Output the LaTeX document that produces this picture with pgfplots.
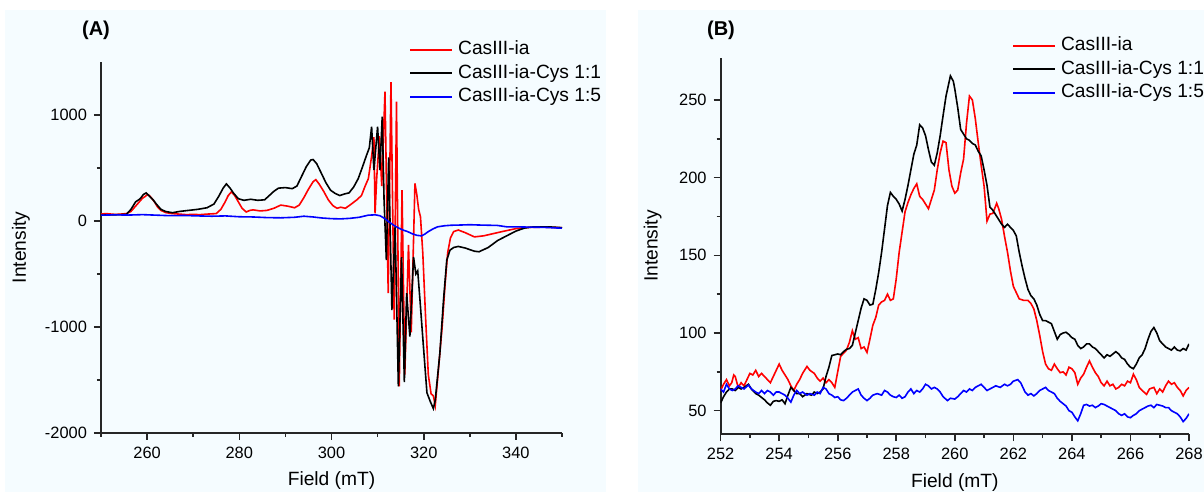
\documentclass[border=0pt]{standalone}
\usepackage{fontspec}
\setmainfont{Liberation Sans}
\usepackage{pgfplots}
\pgfplotsset{compat=1.18}
\definecolor{panelbg}{RGB}{245,252,255}
\definecolor{eprred}{RGB}{255,0,0}
\definecolor{eprblue}{RGB}{0,0,255}

\pgfplotsset{
  epr/.style={
    scale only axis,
    axis lines*=left,
    axis line style={line width=0.9pt, black!85, -},
    tick style={line width=0.8pt, black!85},
    tick align=outside,
    major tick length=3.5pt,
    minor tick length=2pt,
    tick label style={font=\fontsize{8.2}{9}\selectfont},
    /pgf/number format/assume math mode=true,
    /pgf/number format/1000 sep={},
    label style={font=\fontsize{9.6}{11}\selectfont},
    legend style={draw=none, fill=none, font=\fontsize{9.6}{11}\selectfont,
      anchor=north west, row sep=2.75pt, column sep=2.5pt,
      nodes={inner sep=0pt, text height=7pt, text depth=2pt},
      cells={anchor=west}},
    legend image code/.code={\draw[#1, line width=0.9pt] (0pt,0pt) -- (21pt,0pt);},
    every axis plot/.append style={line width=0.8pt, mark=none},
  },
}

\begin{document}
\begin{tikzpicture}
\useasboundingbox (0,0) rectangle (602pt,246pt);
\fill[panelbg] (2.5pt,0pt) rectangle (303pt,241pt);
\fill[panelbg] (319pt,0pt) rectangle (602pt,241pt);

% ---------- panel A ----------
\begin{axis}[epr,
  at={(50.5pt,29.5pt)}, anchor=south west,
  width=230.5pt, height=185.5pt,
  xmin=250, xmax=350, ymin=-2000, ymax=1500,
  xtick={260,280,300,320,340}, minor xtick={250,270,290,310,330,350},
  ytick={-2000,-1000,0,1000}, minor ytick={-1500,-500,500},
  xlabel={Field (mT)}, ylabel={Intensity},
  xlabel style={at={(axis description cs:0.5,-0.127)}, anchor=center},
  ylabel style={at={(axis description cs:-0.1735,0.5)}, anchor=center},
  legend style={at={(axis description cs:0.655,1.069)}},
]
\addplot[eprred] coordinates {
(250,65)(251,70)(252,66)(253,62)(254,64)(255,68)(255.5,70)(256.5,90)(257.5,140)(258.3,180)(259,215)
(259.6,232)(260.1,250)(260.4,244)(261,215)(261.6,180)(262.3,130)(263,100)(264,80)(265,72)
(266,68)(267,65)(268.5,60)(270,62)(271.5,60)(273,65)(275,70)(276,110)(276.8,170)(277.6,240)
(278.3,275)(279,240)(279.8,180)(280.6,120)(281.5,85)(282.3,100)(283,105)(284.5,95)(286,100)
(287.5,120)(289,150)(290.5,140)(292,125)(293,150)(294,220)(295,300)(296,370)(296.6,390)
(297.3,350)(298.3,280)(299.3,200)(300.3,145)(301.2,120)(302,130)(303,120)(304,150)(305.5,200)
(306.5,240)(307.3,330)(308,400)(308.7,610)(309.2,790)(309.45,72)(309.8,400)(310.4,800)
(310.9,330)(311.6,1220)(312.3,-680)(312.9,1310)(313.6,-930)(314.1,1125)(314.7,-1560)
(315.3,290)(315.9,-1450)(316.7,-226)(317.3,-1050)(318.1,355)(318.5,250)(318.9,110)
(319.3,40)(319.8,-300)(320.4,-900)(321,-1450)(321.6,-1630)(322.1,-1650)(322.5,-1740)
(323,-1500)(323.5,-1250)(324,-1000)(324.6,-620)(325.2,-300)(325.8,-160)(326.5,-100)
(327.5,-85)(329,-110)(331,-150)(333,-140)(335,-120)(337,-100)(340,-72)(343,-60)(346,-58)(350,-63)
};
\addlegendentry{CasIII-ia}
\addplot[black] coordinates {
(250,55)(252,58)(254,60)(255.5,62)(256.5,110)(257.5,180)(258.5,210)(259.2,250)(259.8,265)
(260.5,235)(261.3,200)(262,160)(263,110)(264,90)(265.5,78)(267,90)(269,100)(271,110)(273,125)
(274.5,160)(275.5,230)(276.5,310)(277.2,350)(278,310)(278.8,260)(279.8,210)(281,195)(282.5,205)
(284,195)(285.5,200)(286.5,240)(287.5,280)(288.5,310)(290,315)(291.5,305)(292.5,330)(293.5,420)
(294.5,510)(295.5,575)(296,580)(296.8,540)(297.8,450)(298.8,360)(299.8,290)(300.8,260)
(301.8,240)(302.8,255)(303.8,265)(304.8,320)(305.8,400)(306.8,520)(307.6,620)(308.2,690)
(308.7,890)(309.2,480)(310,890)(310.5,480)(311,985)(311.4,200)(311.9,-370)(312.4,600)
(313.1,-840)(313.8,-50)(314.5,-1560)(315.2,-340)(315.8,-1520)(316.3,-680)(317,-1090)
(317.8,-340)(318.3,-500)(318.7,-470)(319.2,-750)(319.9,-1160)(320.7,-1620)(321.4,-1700)
(322.1,-1770)(322.5,-1690)(323.5,-1250)(324.3,-745)(325,-370)(325.7,-275)(326.5,-250)
(327.5,-240)(329,-255)(331,-285)(332,-290)(334,-250)(336,-185)(338,-140)(340,-95)(342,-65)
(344,-55)(347,-55)(350,-63)
};
\addlegendentry{CasIII-ia-Cys 1:1}
\addplot[eprblue] coordinates {
(250,55)(253,58)(256,56)(259,60)(262,55)(265,50)(268,52)(271,48)(274,45)(277,48)(280,40)
(283,38)(286,32)(289,30)(292,35)(294,45)(296,38)(298,28)(300,22)(302,20)(304,25)(306,35)
(308,55)(309.5,58)(310.5,50)(311.5,25)(312.5,-10)(313.5,-40)(314.5,-65)(315.5,-85)(316.5,-100)
(317.5,-120)(318.5,-135)(319.5,-140)(320.2,-125)(321,-100)(322,-75)(323,-55)(324.5,-45)
(326,-40)(328,-38)(330,-35)(332,-38)(334,-40)(336,-42)(338,-55)(340,-55)(343,-58)(346,-60)(350,-68)
};
\addlegendentry{CasIII-ia-Cys 1:5}
\end{axis}

% ---------- panel B ----------
\begin{axis}[epr,
  at={(360.3pt,29pt)}, anchor=south west,
  width=234.2pt, height=188pt,
  xmin=252, xmax=268, ymin=35, ymax=277,
  xtick={252,254,...,268}, minor xtick={253,255,...,267},
  ytick={50,100,...,250}, minor ytick={75,125,...,225},
  xlabel={Field (mT)}, ylabel={Intensity},
  xlabel style={at={(axis description cs:0.5,-0.130)}, anchor=center},
  ylabel style={at={(axis description cs:-0.145,0.5)}, anchor=center},
  legend style={at={(axis description cs:0.609,1.068)}},
]
\addplot[eprred] coordinates {
(252,63)(252.1,67)(252.2,70)(252.3,66)(252.38,68)(252.45,73)(252.5,72)(252.6,65)(252.7,68)
(252.8,66)(252.9,70)(253,74)(253.1,73)(253.2,76)(253.3,72)(253.4,74)(253.5,72)(253.6,70)
(253.7,68)(253.8,72)(253.9,76)(254,80)(254.1,76)(254.2,73)(254.3,70)(254.4,66)(254.5,63)
(254.6,67)(254.7,70)(254.8,74)(254.95,78.5)(255.05,76)(255.2,74)(255.3,71)(255.4,69)(255.5,71)
(255.6,68)(255.7,70)(255.8,68)(255.9,65)(256,75)(256.1,85)(256.2,87)(256.3,89)(256.4,94)
(256.5,101.5)(256.6,96)(256.7,97)(256.8,90)(256.9,91)(257,87.5)(257.1,96)(257.2,105)(257.3,110)
(257.4,118)(257.5,120)(257.6,121)(257.7,125)(257.8,121)(257.9,122)(258,135)(258.1,152)(258.2,165)
(258.3,178)(258.4,184)(258.5,189)(258.6,193)(258.7,196)(258.8,188)(258.9,186)(259,183)(259.1,180)
(259.2,186)(259.3,192)(259.4,205)(259.5,216)(259.6,223.5)(259.7,222.5)(259.8,205)(259.9,194.5)
(260,190)(260.1,192)(260.2,203)(260.3,212)(260.4,235)(260.5,252.5)(260.6,250)(260.7,238)
(260.8,222.5)(260.9,208)(261,194.5)(261.1,172)(261.2,176.5)(261.3,177)(261.43,183.5)(261.5,180)
(261.6,173)(261.7,162)(261.8,152)(261.9,140)(262,130)(262.1,126)(262.2,122)(262.35,121)
(262.5,121)(262.6,119)(262.7,115.5)(262.8,108)(262.9,98.5)(263,88)(263.1,80)(263.2,77)(263.3,76)
(263.4,80)(263.5,77)(263.6,74.5)(263.7,75)(263.8,73)(263.9,78)(264,77)(264.1,74.5)(264.2,67)
(264.3,71)(264.4,73.5)(264.5,78)(264.6,82)(264.7,78)(264.8,74.5)(264.9,72)(265,68)(265.1,66)
(265.2,69)(265.3,66)(265.4,67)(265.5,64)(265.6,65)(265.7,67)(265.8,66)(265.9,69)(266,68)
(266.1,73.5)(266.2,70)(266.3,65)(266.4,63)(266.55,60.5)(266.65,64)(266.8,65)(266.9,61)(267,64)
(267.1,62)(267.2,66)(267.3,69)(267.4,67)(267.5,68)(267.6,65)(267.7,63)(267.8,59.5)(267.9,63)(268,65)
};
\addlegendentry{CasIII-ia}
\addplot[black] coordinates {
(252,55)(252.1,59)(252.2,62)(252.3,64)(252.4,64)(252.5,63)(252.6,65)(252.7,64)(252.8,65)
(252.95,67)(253.05,64)(253.2,61)(253.3,60)(253.4,58.5)(253.5,57)(253.6,55)(253.7,53.5)(253.8,56)
(253.9,56.5)(254,56)(254.1,57)(254.2,54.5)(254.3,60)(254.4,65)(254.5,63)(254.6,61)(254.7,61)
(254.8,59)(254.95,61)(255.1,60)(255.2,62)(255.3,61)(255.4,62)(255.5,64)(255.6,72)(255.7,78)
(255.8,85.5)(255.9,86)(256,86.5)(256.1,86)(256.2,88)(256.3,89.5)(256.4,90)(256.5,92)(256.6,100)
(256.7,108)(256.8,116)(256.9,122)(257,121)(257.1,118)(257.2,118.5)(257.3,128)(257.4,139)
(257.5,152)(257.6,167)(257.7,182)(257.8,190.5)(257.9,188)(258,186)(258.1,183)(258.2,178.5)
(258.3,186)(258.4,195)(258.5,205)(258.6,215)(258.7,221)(258.8,234)(258.9,232)(259,227)(259.1,218)
(259.2,210)(259.3,208)(259.4,216)(259.5,227)(259.6,240)(259.7,252.5)(259.85,265.5)(259.95,262)
(260,257)(260.1,245)(260.2,231)(260.3,228)(260.4,225)(260.5,224)(260.6,222)(260.7,221)(260.8,217)
(260.9,214)(261,205)(261.1,195)(261.2,181)(261.3,179)(261.4,176)(261.5,173)(261.6,170)(261.7,168)
(261.8,170)(261.9,168)(262,166)(262.1,162.5)(262.2,152)(262.3,143)(262.4,135)(262.5,128)
(262.6,124)(262.7,122)(262.8,118)(262.9,112)(263,108)(263.1,108)(263.2,107)(263.3,106)(263.4,101)
(263.5,96)(263.6,99)(263.7,100)(263.8,100.5)(263.9,99)(264,97)(264.1,96)(264.2,92)(264.3,90)
(264.4,91)(264.5,93)(264.6,93)(264.7,91)(264.8,90)(264.9,88)(265,86)(265.1,84)(265.2,86)(265.3,85)
(265.4,86.5)(265.5,88)(265.6,86.5)(265.7,84)(265.8,83)(265.9,80)(266,78)(266.1,77)(266.2,80)
(266.3,84)(266.4,86)(266.5,90)(266.6,96)(266.7,101)(266.8,103.5)(266.9,100)(267,95)(267.1,93)
(267.2,91)(267.3,90)(267.4,89)(267.5,91)(267.6,89)(267.7,88.5)(267.8,90)(267.9,89)(268,93)
};
\addlegendentry{CasIII-ia-Cys 1:1}
\addplot[eprblue] coordinates {
(252,64)(252.1,62)(252.2,67)(252.3,64)(252.4,63)(252.5,64)(252.6,66)(252.7,65)(252.8,64)
(252.95,66.5)(253.05,64)(253.2,62)(253.3,61)(253.4,63)(253.5,61)(253.6,63)(253.7,62)(253.8,60)
(253.9,62)(254,62)(254.1,61)(254.2,60)(254.3,58)(254.4,55.5)(254.5,60)(254.6,63)(254.7,61)
(254.8,62)(254.95,60)(255.05,61)(255.2,60)(255.3,62)(255.4,61)(255.5,65)(255.6,64)(255.7,61)
(255.8,60)(255.9,58.5)(256,59)(256.1,57)(256.2,56.5)(256.3,58)(256.4,60)(256.5,62)(256.6,63)
(256.7,64)(256.8,60)(256.9,58)(257,56.5)(257.1,58)(257.2,60)(257.35,61)(257.5,60)(257.6,63)
(257.7,62)(257.8,60)(257.9,59)(258,58.5)(258.1,60)(258.2,58)(258.3,59)(258.4,62)(258.5,64)
(258.6,61)(258.7,63)(258.8,62)(258.9,64)(259,67)(259.1,66)(259.2,64)(259.3,65)(259.4,64)
(259.5,62)(259.6,59)(259.75,56.5)(259.85,58)(260,57.5)(260.1,59)(260.2,61)(260.3,63)(260.4,62)
(260.5,64)(260.6,63)(260.7,65)(260.8,66)(260.9,67)(261,65)(261.1,63)(261.2,64)(261.3,65)
(261.4,66)(261.55,65)(261.7,67)(261.8,66)(261.9,67)(262,69)(262.15,70)(262.25,68)(262.4,62)
(262.5,60)(262.6,61)(262.7,59.5)(262.8,61)(262.9,63)(263,64)(263.1,65)(263.2,63)(263.3,62)
(263.4,61)(263.5,58)(263.6,56)(263.7,54.5)(263.8,53)(263.9,50)(264,49)(264.1,46)(264.2,43.5)
(264.3,48)(264.4,53.5)(264.5,54)(264.6,53)(264.7,53.5)(264.8,52)(264.9,53)(265,54.5)(265.1,54)
(265.2,53)(265.3,52)(265.4,51)(265.5,50)(265.6,48)(265.7,47)(265.8,48)(265.9,46)(266,45.5)
(266.1,47)(266.2,48)(266.3,50)(266.4,51)(266.5,52)(266.6,53)(266.7,53.5)(266.8,52)(266.9,54)
(267,53.5)(267.1,53)(267.2,52)(267.3,52)(267.4,50)(267.5,49)(267.6,48)(267.7,46)(267.8,43)
(267.9,45)(268,48)
};
\addlegendentry{CasIII-ia-Cys 1:5}
\end{axis}

\node[font=\bfseries\fontsize{10}{12}\selectfont] at (48pt,231pt) {(A)};
\node[font=\bfseries\fontsize{10}{12}\selectfont] at (360.5pt,231pt) {(B)};
\end{tikzpicture}
\end{document}
